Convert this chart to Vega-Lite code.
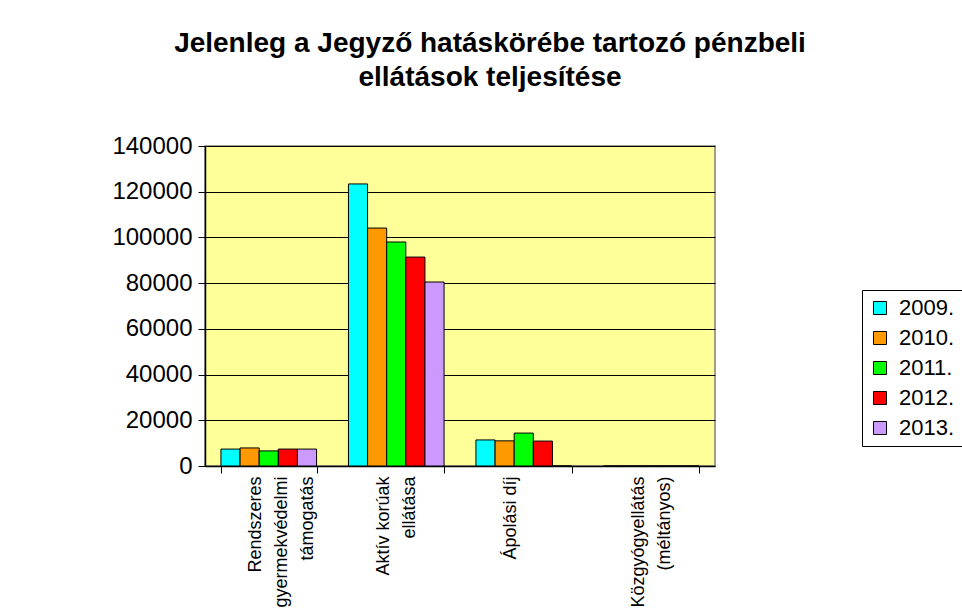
{
  "$schema": "https://vega.github.io/schema/vega-lite/v6.json",
  "autosize": "none",
  "width": 510,
  "height": 320,
  "padding": {"left": 205, "top": 146, "right": 247, "bottom": 147},
  "background": "white",
  "title": {
    "text": ["Jelenleg a Jegyző hatáskörébe tartozó pénzbeli", "ellátások teljesítése"],
    "font": "Liberation Sans",
    "fontSize": 28,
    "fontWeight": "bold",
    "color": "black",
    "anchor": "start",
    "align": "center",
    "frame": "group",
    "dx": 285,
    "lineHeight": 34,
    "offset": 42
  },
  "data": {
    "values": [
      {"kat": "Rendszeres\ngyermekvédelmi\ntámogatás", "ev": "2009.", "ertek": 7400},
      {"kat": "Rendszeres\ngyermekvédelmi\ntámogatás", "ev": "2010.", "ertek": 7900},
      {"kat": "Rendszeres\ngyermekvédelmi\ntámogatás", "ev": "2011.", "ertek": 6600},
      {"kat": "Rendszeres\ngyermekvédelmi\ntámogatás", "ev": "2012.", "ertek": 7400},
      {"kat": "Rendszeres\ngyermekvédelmi\ntámogatás", "ev": "2013.", "ertek": 7400},
      {"kat": "Aktív korúak\nellátása", "ev": "2009.", "ertek": 123400},
      {"kat": "Aktív korúak\nellátása", "ev": "2010.", "ertek": 104100},
      {"kat": "Aktív korúak\nellátása", "ev": "2011.", "ertek": 98000},
      {"kat": "Aktív korúak\nellátása", "ev": "2012.", "ertek": 91400},
      {"kat": "Aktív korúak\nellátása", "ev": "2013.", "ertek": 80500},
      {"kat": "Ápolási díj", "ev": "2009.", "ertek": 11400},
      {"kat": "Ápolási díj", "ev": "2010.", "ertek": 11000},
      {"kat": "Ápolási díj", "ev": "2011.", "ertek": 14400},
      {"kat": "Ápolási díj", "ev": "2012.", "ertek": 10900},
      {"kat": "Ápolási díj", "ev": "2013.", "ertek": 0},
      {"kat": "Közgyógyellátás\n(méltányos)", "ev": "2009.", "ertek": 0},
      {"kat": "Közgyógyellátás\n(méltányos)", "ev": "2010.", "ertek": 0},
      {"kat": "Közgyógyellátás\n(méltányos)", "ev": "2011.", "ertek": 0},
      {"kat": "Közgyógyellátás\n(méltányos)", "ev": "2012.", "ertek": 0},
      {"kat": "Közgyógyellátás\n(méltányos)", "ev": "2013.", "ertek": 0}
    ]
  },
  "mark": {"type": "bar", "stroke": "black", "strokeWidth": 1},
  "encoding": {
    "x": {
      "field": "kat",
      "type": "nominal",
      "sort": null,
      "title": null,
      "scale": {"paddingInner": 0.25, "paddingOuter": 0.125},
      "axis": {
        "labelExpr": "split(datum.label, '\\n')",
        "labelAngle": -90,
        "labelAlign": "right",
        "labelBaseline": "middle",
        "labelFont": "Liberation Sans",
        "labelFontSize": 18,
        "labelLineHeight": 26,
        "labelColor": "black",
        "labelLimit": 300,
        "labelPadding": 3,
        "labelOffset": -13,
        "tickBand": "extent",
        "tickSize": 7,
        "tickColor": "black",
        "domainColor": "black",
        "domainWidth": 1.5
      }
    },
    "xOffset": {
      "field": "ev",
      "type": "nominal",
      "scale": {"paddingInner": 0, "paddingOuter": 0}
    },
    "y": {
      "field": "ertek",
      "type": "quantitative",
      "title": null,
      "scale": {"domain": [0, 140000], "nice": false},
      "axis": {
        "values": [0, 20000, 40000, 60000, 80000, 100000, 120000, 140000],
        "format": "d",
        "labelFont": "Liberation Sans",
        "labelFontSize": 24,
        "labelColor": "black",
        "labelPadding": 6,
        "tickSize": 7,
        "tickColor": "black",
        "domainColor": "black",
        "domainWidth": 1.5,
        "grid": true,
        "gridColor": "black",
        "gridWidth": 1,
        "gridOpacity": 1
      }
    },
    "color": {
      "field": "ev",
      "type": "nominal",
      "title": null,
      "scale": {
        "domain": ["2009.", "2010.", "2011.", "2012.", "2013."],
        "range": ["#00FFFF", "#FF9900", "#00FF00", "#FF0000", "#CC99FF"]
      },
      "legend": {
        "orient": "none",
        "legendX": 657,
        "legendY": 144,
        "symbolType": "square",
        "symbolSize": 170,
        "symbolStrokeColor": "black",
        "symbolStrokeWidth": 1,
        "symbolOpacity": 1,
        "labelFont": "Liberation Sans",
        "labelFontSize": 22,
        "labelColor": "black",
        "labelOffset": 8,
        "rowPadding": 8,
        "padding": 7,
        "strokeColor": "black",
        "fillColor": "white"
      }
    }
  },
  "config": {
    "view": {"fill": "#FFFF99", "stroke": "#808080", "strokeWidth": 1.5},
    "axis": {"labelOverlap": false}
  }
}
